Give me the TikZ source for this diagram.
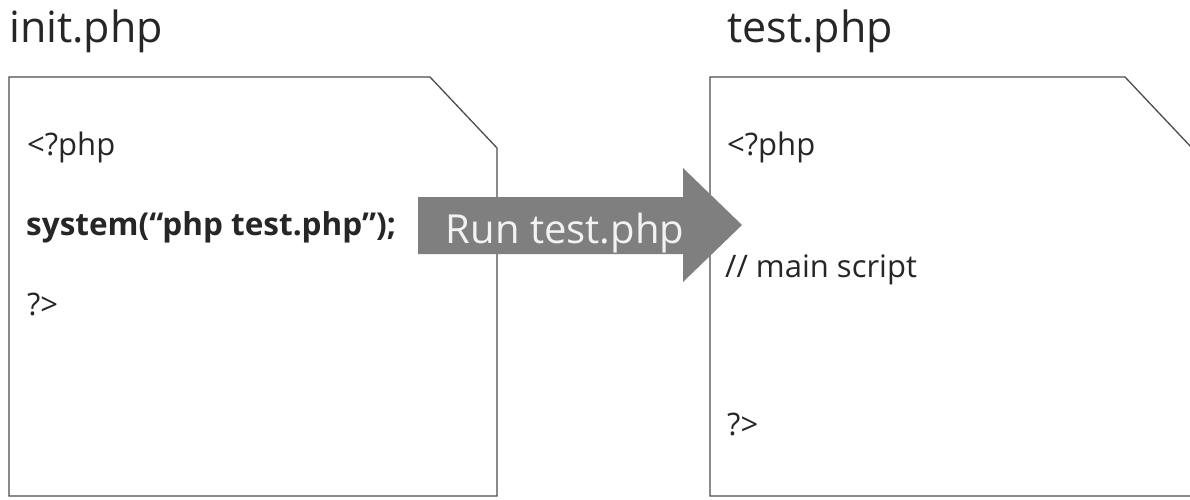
\documentclass[tikz,border=0pt]{standalone}
\usepackage{fontspec}
\setmainfont{Open Sans}
\definecolor{txt}{HTML}{262626}
\definecolor{arrowgray}{HTML}{7F7F7F}
\definecolor{runtxt}{HTML}{F2F2F2}
\begin{document}
\begin{tikzpicture}[x=1pt,y=-1pt,
  doc/.style={draw=black!70, line width=1.3pt, fill=white},
  title/.style={anchor=base west, inner sep=0pt, font=\fontsize{43}{48}\selectfont, text=txt},
  code/.style={anchor=base west, inner sep=0pt, font=\fontsize{31}{36}\selectfont, text=txt},
  boldcode/.style={code, font=\fontsize{31.5}{36}\selectfont\bfseries},
  runarrow/.style={fill=arrowgray, draw=none},
  runlabel/.style={anchor=base, inner sep=0pt, font=\fontsize{40}{46}\selectfont, text=runtxt}]
\clip (0,0) rectangle (1190,499);
% titles
\node[title] (t1) at (9,42) {init.php};
\node[title] (t2) at (727,42) {test.php};
% documents
\coordinate (d1tl) at (9,77);
\coordinate (d1c1) at (430,77);
\coordinate (d1c2) at (497,148);
\coordinate (d1br) at (497,496);
\draw[doc] (d1tl) -- (d1c1) -- (d1c2) -- (d1br) -- (d1tl |- d1br) -- cycle;
\coordinate (d2tl) at (710,77);
\coordinate (d2c1) at (1125,77);
\coordinate (d2c2) at (1192,148);
\coordinate (d2br) at (1192,496);
\draw[doc] (d2tl) -- (d2c1) -- (d2c2) -- (d2br) -- (d2tl |- d2br) -- cycle;
% left code
\node[code] (l1) at (27,155) {<?php};
\node[boldcode] (l2) at (26,235) {system(“php test.php”);};
\node[code] (l3) at (27,315) {?>};
% right code
\node[code] (r1) at (727,155) {<?php};
\node[code] (r2) at (725,277) {// main script};
\node[code] (r3) at (727,435) {?>};
% arrow
\fill[runarrow] (418,197) -- (683,197) -- (683,168) -- (742,225) -- (683,282) -- (683,254) -- (418,254) -- cycle;
\node[runlabel] (run) at (565,243) {Run test.php};
\end{tikzpicture}
\end{document}
